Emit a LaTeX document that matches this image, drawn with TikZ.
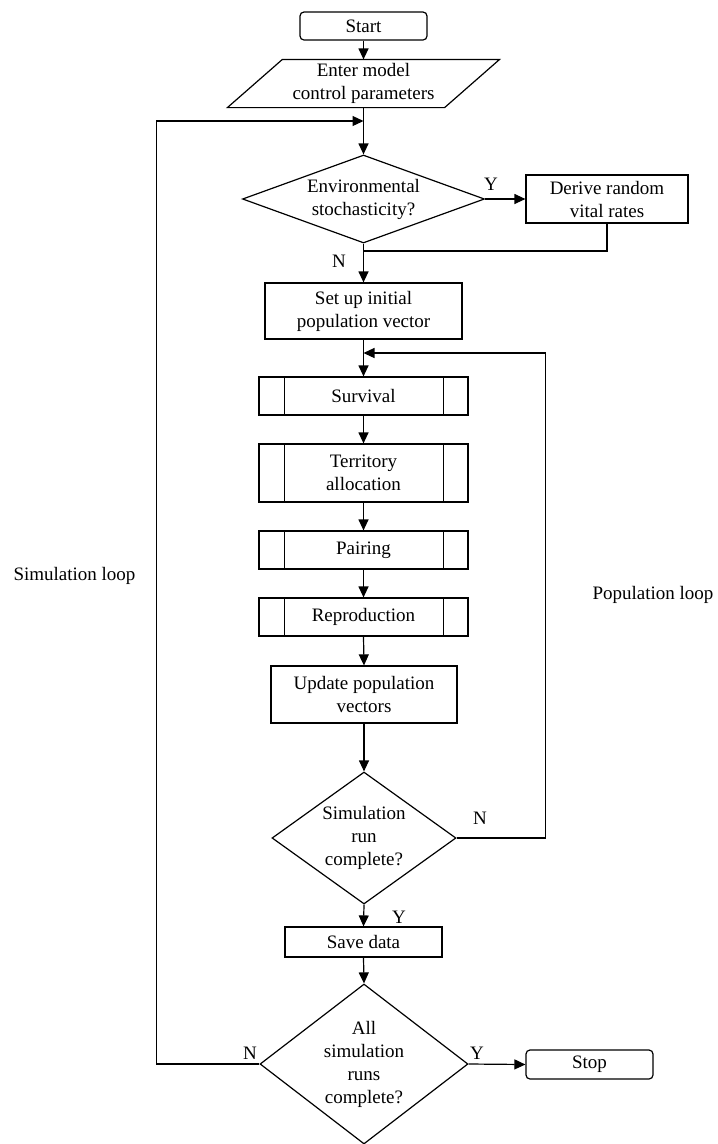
\documentclass[tikz,border=0pt]{standalone}
\usepackage{fontspec}
\setmainfont{Liberation Serif}
\usetikzlibrary{arrows.meta,shapes.geometric}
\begin{document}
\begin{tikzpicture}[x=1pt,y=-1pt,
  font=\fontsize{19pt}{23pt}\selectfont,
  line width=1.2pt,
  box/.style={draw,rectangle,inner sep=0pt,align=center},
  rbox/.style={box,rounded corners=4pt},
  dia/.style={draw,diamond,inner sep=0pt},
  arr/.style={-{Triangle[length=11pt,width=10pt]}},
  lbl/.style={inner sep=0pt}]
\useasboundingbox (0,0) rectangle (718,1144);

% nodes
\node[rbox, minimum width=127pt, minimum height=28pt] (start) at (363.5,26) {Start};
\node[inner sep=0pt, minimum width=216pt, minimum height=47pt, align=center] (inp) at (363.5,83.5) {Enter model\\control parameters};
\draw ([xshift=27.5pt]inp.north west) -- ([xshift=27.5pt]inp.north east) -- ([xshift=-27.5pt]inp.south east) -- ([xshift=-27.5pt]inp.south west) -- cycle;

\node[dia, minimum width=242pt, minimum height=88pt,
      label={[align=center]center:{Environmental\\stochasticity?}}] (d1) at (363.5,199) {};
\node[box, minimum width=162pt, minimum height=48pt] (rate) at (607,199) {Derive random\\vital rates};
\node[box, minimum width=197pt, minimum height=56pt] (setup) at (363.5,311) {Set up initial\\population vector};

\node[box, minimum width=209pt, minimum height=38pt] (surv) at (363.5,396) {Survival};
\node[box, minimum width=209pt, minimum height=58pt] (terr) at (363.5,473) {Territory\\allocation};
\node[box, minimum width=209pt, minimum height=38pt] (pair) at (363.5,550) {Pairing};
\node[box, minimum width=209pt, minimum height=38pt] (repro) at (363.5,617) {Reproduction};
\foreach \n in {surv,terr,pair,repro}{
  \draw ([xshift=26pt]\n.north west) -- ([xshift=26pt]\n.south west);
  \draw ([xshift=-25pt]\n.north east) -- ([xshift=-25pt]\n.south east);
}
\node[box, minimum width=186pt, minimum height=57pt] (upd) at (364,694.5) {Update population\\vectors};

\node[dia, minimum width=184pt, minimum height=132pt,
      label={[align=center]center:{Simulation\\run\\complete?}}] (d2) at (364,838) {};
\node[box, minimum width=157pt, minimum height=30pt] (save) at (363.5,942) {Save data};
\node[dia, minimum width=208pt, minimum height=160pt,
      label={[align=center]center:{All\\simulation\\runs\\complete?}}] (d3) at (364,1064) {};
\node[rbox, minimum width=127pt, minimum height=29pt] (stop) at (589.5,1064.5) {Stop};

% labels
\node[lbl] (ly1) at (491,184) {Y};
\node[lbl] (ln1) at (339,261) {N};
\node[lbl] (ln2) at (480,818) {N};
\node[lbl] (ly2) at (399,917) {Y};
\node[lbl] (ln3) at (250,1053) {N};
\node[lbl] (ly3) at (477,1053) {Y};
\node[lbl] (simlbl) at (74.5,576) {Simulation loop};
\node[lbl] (poplbl) at (653,595) {Population loop};

% connectors
\coordinate (simin) at (363.5,121);
\coordinate (join) at (363.5,251);
\coordinate (popin) at (363.5,353);
\draw[arr] (start.south) -- (inp.north);
\draw[arr] (inp.south) -- (d1.north);
\draw[arr] (d1.east) -- (rate.west);
\draw (rate.south) |- (join);
\draw[arr] (d1.south) -- (setup.north);
\draw[arr] (setup.south) -- (surv.north);
\draw[arr] (surv.south) -- (terr.north);
\draw[arr] (terr.south) -- (pair.north);
\draw[arr] (pair.south) -- (repro.north);
\draw[arr] (repro.south) -- (upd.north);
\draw[arr] (upd.south) -- (d2.north);
\draw[arr] (d2.east) -- ++(89,0) |- (popin);
\draw[arr] (d2.south) -- (save.north);
\draw[arr] (save.south) -- (d3.north);
\draw[arr] (d3.east) -- (stop.west);
\draw[arr] (d3.west) -- ++(-103,0) |- (simin);
\end{tikzpicture}
\end{document}
